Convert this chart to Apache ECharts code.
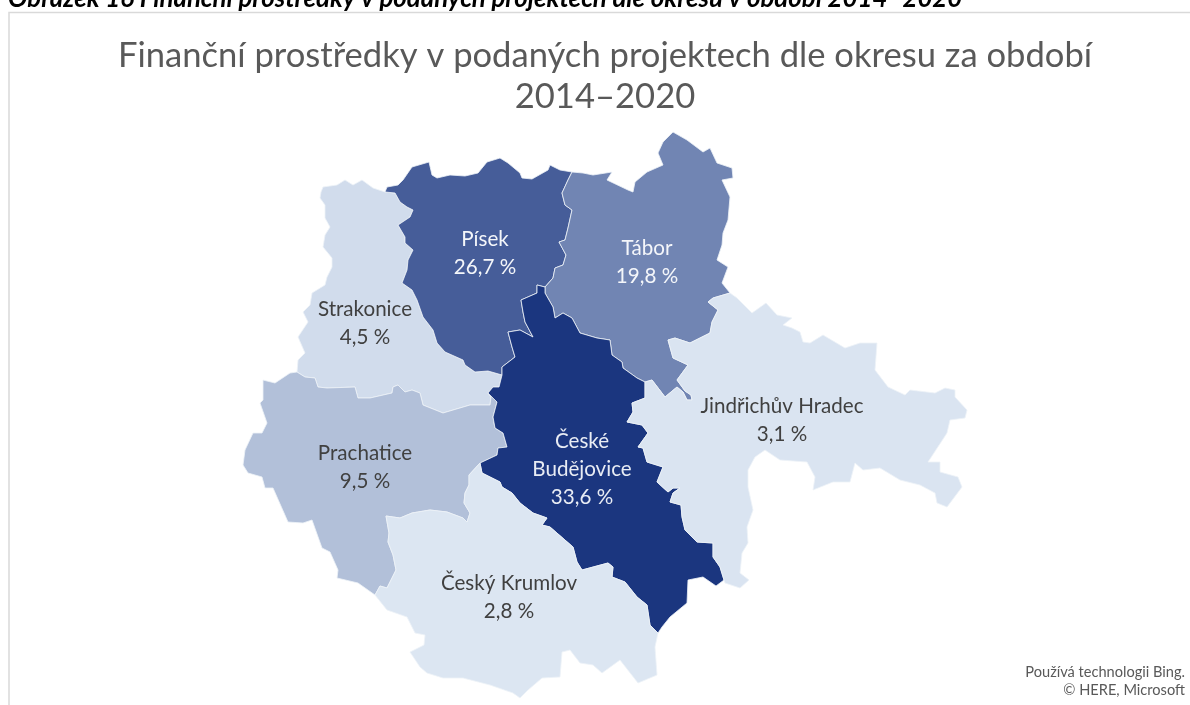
<!DOCTYPE html>
<html>
<head>
<meta charset="utf-8">
<style>html,body{margin:0;padding:0;background:#fff;overflow:hidden}#main{width:1190px;height:705px}</style>
<script src="https://cdn.jsdelivr.net/npm/echarts@6/dist/echarts.min.js"></script>
</head>
<body>
<div id="main"></div>
<script>
var districts = ['Strakonice', 'Písek', 'Tábor', 'Prachatice', 'České Budějovice', 'Jindřichův Hradec', 'Český Krumlov'];
var shares = [4.5, 26.7, 19.8, 9.5, 33.6, 3.1, 2.8];
var labelColors = ['#404040', '#f4f6fa', '#f4f6fa', '#404040', '#e8ecf4', '#404040', '#404040'];
var labelPoints = [[365, 323], [485, 253], [647, 262], [365, 467], [582, 469], [782, 420], [509, 597]];

// district outlines, shared borders kept as one chain
var strakOuter = [[385,192],[373,188],[362,180],[353,185],[345,180],[337,185],[323,187],[321,192],[320,198],[325,205],[325,218],[330,227],[325,235],[323,247],[332,258],[332,267],[327,277],[325,285],[312,293],[310,305],[303,312],[308,322],[298,337],[305,353],[298,360],[297,372]];
var strakPisek = [[385,192],[395,193],[400,202],[407,207],[413,210],[410,217],[398,225],[405,237],[405,243],[413,250],[408,260],[407,270],[402,283],[412,290],[417,300],[423,317],[433,330],[437,343],[445,352],[463,360],[465,365],[475,372],[488,371],[502,375]];
var strakCb = [[502,375],[499,387],[493,387],[488,393]];
var strakPrach = [[488,393],[491,397],[490,405],[470,405],[443,413],[423,405],[420,393],[412,390],[405,392],[398,385],[393,387],[392,393],[370,398],[358,398],[355,387],[327,388],[318,387],[315,378],[305,377],[297,372]];
var prachOuter = [[297,372],[290,373],[275,383],[263,380],[263,400],[260,403],[267,423],[262,433],[253,433],[245,450],[243,465],[248,473],[262,477],[265,488],[273,488],[288,522],[303,523],[312,520],[322,548],[330,552],[338,570],[337,578],[358,583],[375,595]];
var prachCk = [[375,595],[380,586],[387,588],[396,570],[393,555],[388,542],[389,533],[386,516],[400,518],[412,513],[430,510],[447,512],[463,518],[467,522],[470,513],[464,503],[465,493],[469,485],[469,475],[480,463]];
var prachCb = [[488,393],[497,402],[493,417],[495,428],[503,433],[507,447],[498,448],[497,455],[480,463]];
var ckOuter = [[375,595],[387,610],[407,617],[415,633],[425,635],[424,645],[410,652],[420,667],[427,673],[443,678],[463,678],[490,685],[513,693],[520,698],[528,690],[542,678],[560,677],[562,652],[570,650],[580,663],[593,665],[602,673],[620,660],[638,683],[657,675],[655,647],[658,633]];
var ckCb = [[480,463],[482,473],[500,482],[502,487],[512,493],[520,503],[533,513],[547,518],[542,525],[550,527],[573,547],[577,562],[582,570],[608,563],[613,567],[612,577],[625,582],[637,597],[647,605],[650,625],[658,633]];
var cbOuter = [[658,633],[662,627],[670,617],[687,603],[688,580],[703,577],[716,586],[724,580]];
var cbJh = [[724,580],[720,567],[713,557],[713,543],[697,542],[685,530],[682,517],[681,505],[670,502],[673,493],[680,488],[673,488],[668,492],[657,482],[663,467],[647,462],[643,448],[638,447],[648,433],[642,425],[627,422],[633,412],[632,403],[645,398],[645,382]];
var jhOuter = [[724,580],[725,583],[740,588],[749,580],[740,573],[742,553],[748,543],[747,527],[753,510],[748,487],[748,470],[755,457],[765,450],[780,460],[807,462],[815,477],[813,490],[833,482],[850,482],[855,463],[863,470],[880,468],[900,480],[920,485],[935,493],[937,503],[947,507],[962,487],[958,477],[940,472],[940,462],[928,462],[947,433],[950,420],[965,418],[967,410],[955,397],[955,390],[945,388],[935,393],[910,390],[905,395],[888,387],[875,370],[877,343],[860,343],[845,348],[823,335],[810,343],[803,342],[800,332],[792,328],[783,325],[792,318],[777,315],[766,303],[752,313],[737,298],[730,293]];
var taborJh = [[730,293],[713,298],[708,302],[718,310],[712,322],[710,333],[690,343],[675,338],[668,340],[673,358],[688,365],[677,380],[685,391],[691,395],[692,400],[687,400],[683,392],[677,387],[665,397],[652,380],[645,382]];
var taborOuter = [[572,172],[583,173],[593,175],[612,172],[607,180],[628,190],[633,192],[635,182],[647,172],[663,165],[658,153],[663,142],[673,132],[687,140],[703,152],[710,148],[717,163],[732,168],[733,178],[722,180],[730,197],[728,220],[723,233],[722,245],[717,260],[728,267],[722,283],[730,293]];
var taborCb = [[545,287],[545,293],[553,307],[555,318],[563,313],[572,318],[580,333],[597,338],[610,340],[612,355],[622,362],[623,368],[637,378],[645,382]];
var pisekTabor = [[572,172],[568,180],[562,193],[565,205],[572,210],[568,228],[565,240],[559,242],[566,255],[563,265],[555,268],[553,278],[545,287]];
var pisekOuter = [[385,192],[387,187],[398,185],[403,180],[412,167],[429,162],[432,175],[437,178],[450,175],[465,176],[478,173],[487,162],[500,158],[508,163],[520,173],[522,178],[532,179],[548,170],[550,165],[560,170],[572,172]];
var pisekCb = [[502,375],[502,367],[515,357],[512,347],[508,332],[520,330],[533,337],[525,322],[523,312],[521,300],[537,293],[537,285],[545,287]];

function rev(chain) { return chain.slice().reverse(); }
var rings = [
    rev(strakOuter).concat(strakPisek, strakCb, strakPrach),
    pisekOuter.concat(pisekTabor, rev(pisekCb), rev(strakPisek)),
    taborOuter.concat(taborJh, rev(taborCb), rev(pisekTabor)),
    prachOuter.concat(prachCk, rev(prachCb), strakPrach),
    ckCb.concat(cbOuter, cbJh, rev(taborCb), rev(pisekCb), strakCb, prachCb),
    jhOuter.concat(taborJh, rev(cbJh)),
    ckOuter.concat(rev(ckCb), rev(prachCk))
];

var geoJson = {
    type: 'FeatureCollection',
    features: districts.map(function (name, i) {
        return {
            type: 'Feature',
            properties: { name: name, cp: labelPoints[i] },
            geometry: { type: 'Polygon', coordinates: [rings[i]] }
        };
    })
};
echarts.registerMap('okresy', geoJson);

var chart = echarts.init(document.getElementById('main'));
var fontName = 'Lato';
var option = {
    animation: false,
    backgroundColor: '#fff',
    title: [{
        text: 'Finanční prostředky v podaných projektech dle okresu za období\n2014–2020',
        left: 600, top: 30, textAlign: 'center',
        textStyle: { fontFamily: fontName, fontSize: 34.6, fontWeight: 'normal', color: '#595959', lineHeight: 41 }
    }, {
        text: 'Obrázek 16 Finanční prostředky v podaných projektech dle okresu v období 2014–2020',
        left: 8, top: -14,
        padding: 0,
        textStyle: { fontFamily: fontName, fontSize: 25.8, fontWeight: 'bold', fontStyle: 'italic', color: '#000', lineHeight: 26 }
    }],
    graphic: [{
        type: 'rect', z: -1,
        shape: { x: 9, y: 12.5, width: 1200, height: 720 },
        style: { fill: '#fff', stroke: '#d9d9d9', lineWidth: 1.5 }
    }, {
        type: 'text', x: 1185, y: 663,
        style: {
            text: 'Používá technologii Bing.\n© HERE, Microsoft',
            align: 'right', font: '14.6px Lato', lineHeight: 18, fill: '#595959'
        }
    }],
    visualMap: {
        show: false,
        type: 'continuous',
        min: 2.8,
        max: 33.6,
        inRange: { color: ['#dce6f2', '#1b367f'] }
    },
    series: [{
        type: 'map',
        map: 'okresy',
        projection: {
            project: function (p) { return p; },
            unproject: function (p) { return p; }
        },
        boundingCoords: [[0, 0], [1190, 705]],
        left: 0, top: 0, width: 1190, height: 705,
        roam: false,
        itemStyle: { borderColor: '#eef2f8', borderWidth: 0.8 },
        emphasis: { disabled: true },
        label: {
            show: true,
            fontFamily: fontName,
            fontSize: 20.6,
            lineHeight: 28,
            formatter: function (p) {
                var name = p.name === 'České Budějovice' ? 'České\nBudějovice' : p.name;
                return name + '\n' + String(p.value).replace('.', ',') + ' %';
            }
        },
        data: districts.map(function (name, i) {
            return { name: name, value: shares[i], label: { color: labelColors[i] } };
        })
    }]
};
chart.setOption(option);
</script>
</body>
</html>
